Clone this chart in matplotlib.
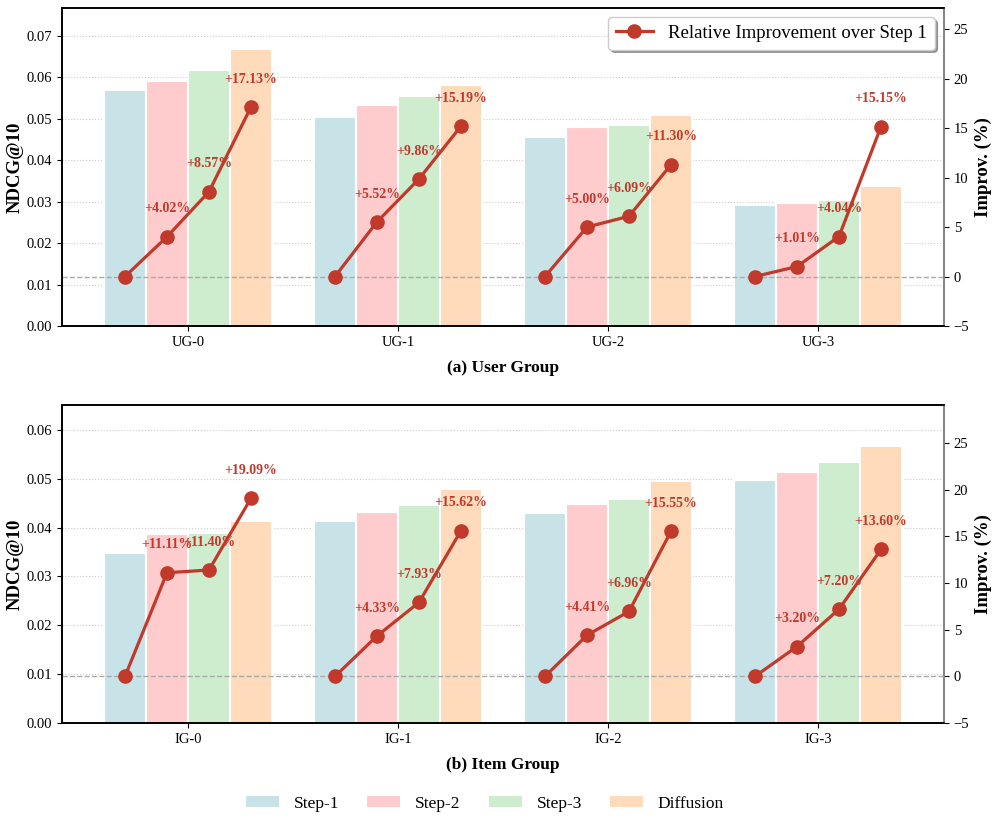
import matplotlib
matplotlib.use("Agg")
import matplotlib.pyplot as plt
import numpy as np
from matplotlib.patches import Patch
from matplotlib.lines import Line2D

plt.rcParams['font.family'] = ['Liberation Serif', 'DejaVu Serif']
plt.rcParams['mathtext.fontset'] = 'stix'

# ---- data ----
user_groups = ["UG-0", "UG-1", "UG-2", "UG-3"]
item_groups = ["IG-0", "IG-1", "IG-2", "IG-3"]
series_names = ["Step-1", "Step-2", "Step-3", "Diffusion"]

ug_step1 = [0.0569, 0.0504, 0.0457, 0.0293]
ug_step2 = [0.0592, 0.0532, 0.0480, 0.0296]
ug_step3 = [0.0618, 0.0554, 0.0485, 0.0305]
ug_diff = [0.0667, 0.0581, 0.0509, 0.0337]

ig_step1 = [0.0348, 0.0413, 0.0429, 0.0498]
ig_step2 = [0.0387, 0.0431, 0.0448, 0.0514]
ig_step3 = [0.0388, 0.0446, 0.0459, 0.0534]
ig_diff = [0.0414, 0.0478, 0.0496, 0.0566]

ug_improv = [[0, 4.02, 8.57, 17.13],
             [0, 5.52, 9.86, 15.19],
             [0, 5.00, 6.09, 11.30],
             [0, 1.01, 4.04, 15.15]]
ig_improv = [[0, 11.11, 11.40, 19.09],
             [0, 4.33, 7.93, 15.62],
             [0, 4.41, 6.96, 15.55],
             [0, 3.20, 7.20, 13.60]]

bar_colors = ["#C7E3E8", "#FFCCCE", "#CEECCE", "#FFDABB"]
line_color = "#C0392B"

W, H = 997, 831
fig = plt.figure(figsize=(W / 100, H / 100), dpi=100)

def make_panel(rect, groups, series, improv, xlabel):
    ax = fig.add_axes(rect)
    x = np.arange(len(groups))
    width = 0.2
    offsets = [-0.3, -0.1, 0.1, 0.3]
    for s, (vals, col, off) in enumerate(zip(series, bar_colors, offsets)):
        ax.bar(x + off, vals, width, color=col, edgecolor="white", linewidth=1.5, zorder=2)
    ymax = max(series[-1]) * 1.15
    ax.set_ylim(0, ymax)
    ax.set_xlim(-0.6, len(groups) - 0.4)
    ax.set_xticks(x)
    ax.set_xticklabels(groups, fontsize=10.5)
    ax.tick_params(axis='y', labelsize=10.5)
    ax.yaxis.set_major_formatter(matplotlib.ticker.FormatStrFormatter('%.2f'))
    ax.set_ylabel("NDCG@10", fontsize=13.5, fontweight='bold', labelpad=2)
    ax.set_xlabel(xlabel, fontsize=12.5, fontweight='bold', labelpad=8)
    ax.grid(axis='y', linestyle=':', color='#cccccc', linewidth=0.8, zorder=0)
    ax.set_axisbelow(True)
    for sp in ax.spines.values():
        sp.set_linewidth(1.2)

    ax2 = ax.twinx()
    allimp = [v for g in improv for v in g]
    ax2.set_ylim(-5, max(allimp) + 10)
    ax2.axhline(0, color='#aaaaaa', linestyle='--', linewidth=1.0, zorder=1)
    for i, imp in enumerate(improv):
        xs = x[i] + np.array(offsets)
        ax2.plot(xs, imp, color=line_color, linewidth=2.3, marker='o', markersize=9.5, zorder=5)
        for xx, v in zip(xs, imp):
            if v > 0:
                ax2.annotate(f"+{v:.2f}%", (xx, v), xytext=(0, 20), textcoords='offset points',
                             ha='center', va='center', fontsize=10, fontweight='bold', color=line_color)
    ax2.set_ylabel("Improv. (%)", fontsize=13.5, fontweight='bold')
    ax2.tick_params(axis='y', labelsize=10.5)
    ax2.spines['right'].set_color('#999999')
    ax2.spines['right'].set_linewidth(1.2)
    for sp in ['top', 'left', 'bottom']:
        ax2.spines[sp].set_linewidth(1.2)
    return ax, ax2

left = 62 / W
width = (944 - 62) / W
h = (326 - 8) / H
ax_a, ax_a2 = make_panel([left, 1 - 326 / H, width, h], user_groups,
                         [ug_step1, ug_step2, ug_step3, ug_diff], ug_improv, "(a) User Group")
ax_b, ax_b2 = make_panel([left, 1 - 723 / H, width, h], item_groups,
                         [ig_step1, ig_step2, ig_step3, ig_diff], ig_improv, "(b) Item Group")

line_handle = Line2D([0], [0], color=line_color, linewidth=2.3, marker='o', markersize=9.5)
ax_a2.legend([line_handle], ["Relative Improvement over Step 1"], loc='upper right',
             fontsize=13.5, shadow=True, fancybox=True, framealpha=1.0, edgecolor='#cccccc')

patches = [Patch(facecolor=c, edgecolor='none') for c in bar_colors]
fig.legend(patches, series_names, loc='center', bbox_to_anchor=(485 / W, 1 - 804 / H), ncol=4,
           frameon=False, fontsize=12.5, handlelength=1.9, handleheight=0.6,
           handletextpad=0.86, columnspacing=1.6)

fig.savefig("out.png", dpi=100)
